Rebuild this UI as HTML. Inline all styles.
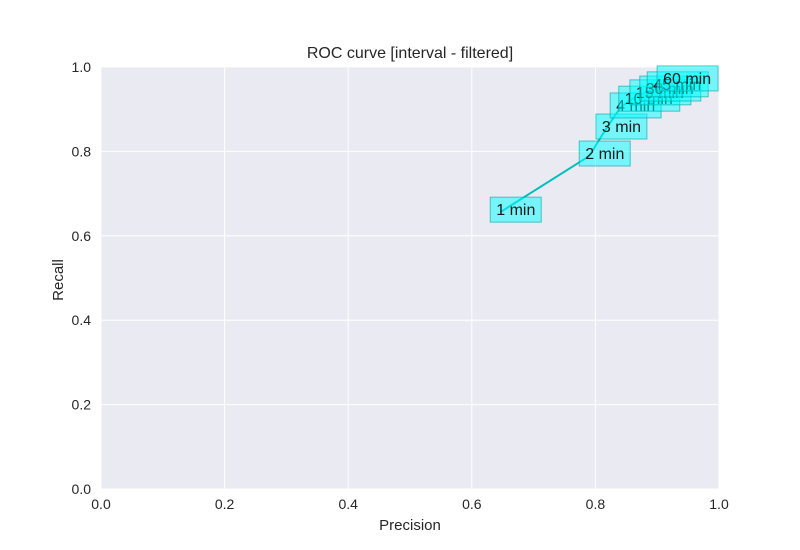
<!DOCTYPE html>
<html><head><meta charset="utf-8"><style>body{margin:0;background:#fff}svg{display:block;font-family:"Liberation Sans",sans-serif}</style></head>
<body>
<svg id="c" width="800" height="550"></svg>
<script>
const labels=["1 min","2 min","3 min","4 min","10 min","15 min","30 min","45 min","60 min"];
const precision=[0.646,0.790,0.817,0.840,0.854,0.872,0.888,0.900,0.916];
const recall=[0.656,0.789,0.853,0.903,0.919,0.934,0.943,0.953,0.967];
const ticks=[0,0.2,0.4,0.6,0.8,1.0];
const tickLabels=["0.0","0.2","0.4","0.6","0.8","1.0"];
const L=101,R=719,T=67,B=489;
const sx=v=>L+v*(R-L), sy=v=>B-v*(B-T);
const svg=document.getElementById('c');const NS='http://www.w3.org/2000/svg';
function mk(t,a,name,txt){const e=document.createElementNS(NS,t);for(const k in a)e.setAttribute(k,a[k]);


if(txt!==undefined)e.textContent=txt;svg.appendChild(e);return e;}
mk('rect',{x:L,y:T,width:R-L,height:B-T,fill:'#eaeaf2'},'plot-area');
ticks.forEach((t,i)=>{
mk('line',{x1:sx(t),x2:sx(t),y1:T,y2:B,stroke:'#fff','stroke-width':1},'x-gridline');
mk('line',{x1:L,x2:R,y1:sy(t),y2:sy(t),stroke:'#fff','stroke-width':1},'y-gridline');
mk('text',{x:sx(t),y:B+20,'text-anchor':'middle','font-size':14,fill:'#262626'},'x-tick-label',tickLabels[i]);
mk('text',{x:L-10,y:sy(t)+5,'text-anchor':'end','font-size':14,fill:'#262626'},'y-tick-label',tickLabels[i]);
});
mk('text',{x:410,y:58,'text-anchor':'middle','font-size':16,fill:'#262626'},'chart-title','ROC curve [interval - filtered]');
mk('text',{x:410,y:530,'text-anchor':'middle','font-size':15,fill:'#262626'},'x-axis-title','Precision');
mk('text',{x:63,y:280,'text-anchor':'middle','font-size':15,fill:'#262626',transform:'rotate(-90 63 280)'},'y-axis-title','Recall');
mk('polyline',{points:precision.map((p,i)=>sx(p)+','+sy(recall[i])).join(' '),fill:'none',stroke:'#00bfbf','stroke-width':2},'roc-line');
labels.forEach((l,i)=>{const x=sx(precision[i]),y=sy(recall[i]);const w=l.length>5?61:51;
mk('rect',{x:x-10,y:y-15,width:w,height:25,fill:'rgba(0,255,255,0.5)',stroke:'rgba(0,160,160,0.6)','stroke-width':1},'annotation-box');
mk('text',{x:x-4,y:y+3,'font-size':16,fill:'#1a1a1a'},'annotation-label',l);
});
</script>
</body></html>
